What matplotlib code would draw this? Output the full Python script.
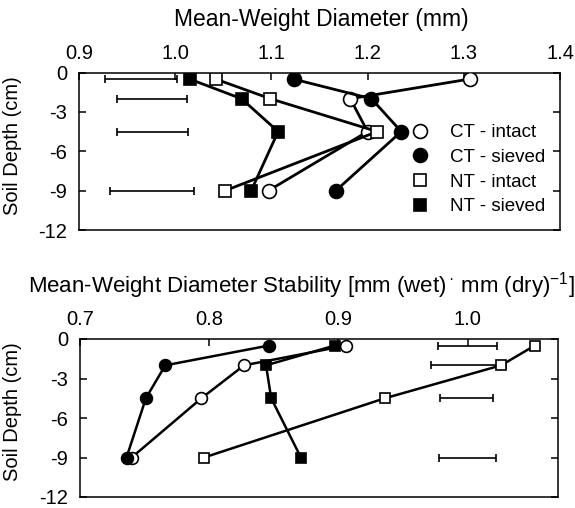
import matplotlib
matplotlib.use("Agg")
import matplotlib.pyplot as plt
from matplotlib.lines import Line2D

plt.rcParams["font.family"] = ["Liberation Sans", "DejaVu Sans"]
plt.rcParams["axes.unicode_minus"] = False
plt.rcParams["mathtext.fontset"] = "custom"
plt.rcParams["mathtext.rm"] = "Liberation Sans"
plt.rcParams["mathtext.default"] = "regular"

# sampling depths (cm)
depth = [-0.5, -2, -4.5, -9]
depth_ticks = [0, -3, -6, -9, -12]

# mean-weight diameter (mm)
mwd_ct_intact = [1.306, 1.182, 1.200, 1.097]
mwd_ct_sieved = [1.123, 1.204, 1.235, 1.167]
mwd_nt_intact = [1.042, 1.099, 1.210, 1.052]
mwd_nt_sieved = [1.015, 1.069, 1.107, 1.079]
mwd_bar_lo = [0.927, 0.940, 0.940, 0.932]
mwd_bar_hi = [1.002, 1.012, 1.013, 1.020]
mwd_ticks = [0.9, 1.0, 1.1, 1.2, 1.3, 1.4]

# mean-weight diameter stability
mwds_ct_intact = [0.906, 0.827, 0.794, 0.740]
mwds_ct_sieved = [0.846, 0.766, 0.751, 0.736]
mwds_nt_intact = [1.052, 1.026, 0.936, 0.796]
mwds_nt_sieved = [0.897, 0.844, 0.848, 0.871]
mwds_bar_lo = [0.977, 0.972, 0.979, 0.978]
mwds_bar_hi = [1.023, 1.030, 1.020, 1.022]
mwds_ticks = [0.7, 0.8, 0.9, 1.0]

labels = ["CT - intact", "CT - sieved", "NT - intact", "NT - sieved"]


def panel(ax, series, lo, hi, xlim, xticks, ms_c, ms_s, lw):
    styles = [("o", "white", ms_c), ("o", "black", ms_c),
              ("s", "white", ms_s), ("s", "black", ms_s)]
    for vals, (mk, fc, ms) in zip(series, styles):
        ax.plot(vals, depth, color="black", lw=lw, marker=mk, ms=ms,
                mfc=fc, mec="black", mew=1.2, zorder=3)
    mid = [(a + b) / 2 for a, b in zip(lo, hi)]
    half = [(b - a) / 2 for a, b in zip(lo, hi)]
    ax.errorbar(mid, depth, xerr=half, fmt="none", ecolor="black",
                elinewidth=1.2, capsize=3, capthick=1.2, zorder=2)
    ax.set_xlim(*xlim)
    ax.set_ylim(-12, 0)
    ax.set_xticks(xticks)
    ax.set_xticklabels(["%.1f" % t for t in xticks])
    ax.set_yticks(depth_ticks)
    ax.xaxis.tick_top()
    ax.tick_params(axis="x", direction="in", top=True, bottom=False,
                   labeltop=True, labelbottom=False, labelsize=14.5,
                   length=5, width=1.1, pad=7)
    ax.tick_params(axis="y", direction="in", left=True, right=True,
                   labelsize=14.5, length=5, width=1.1, pad=8.5)
    for s in ax.spines.values():
        s.set_linewidth(1.1)


fig = plt.figure(figsize=(5.75, 5.08), dpi=100)
ax1 = fig.add_axes([79 / 575, 1 - 230 / 508, 481 / 575, 157.5 / 508])
ax2 = fig.add_axes([80 / 575, 1 - 497 / 508, 478 / 575, 158 / 508])

panel(ax1, [mwd_ct_intact, mwd_ct_sieved, mwd_nt_intact, mwd_nt_sieved],
      mwd_bar_lo, mwd_bar_hi, (0.9, 1.4), mwd_ticks, 10, 8.5, 2.0)
panel(ax2, [mwds_ct_intact, mwds_ct_sieved, mwds_nt_intact, mwds_nt_sieved],
      mwds_bar_lo, mwds_bar_hi, (0.7, 1.07), mwds_ticks, 8.5, 7.5, 1.8)

handles = [
    Line2D([], [], ls="none", marker="o", ms=10, mfc="white", mec="black", mew=1.2),
    Line2D([], [], ls="none", marker="o", ms=10, mfc="black", mec="black", mew=1.2),
    Line2D([], [], ls="none", marker="s", ms=8.5, mfc="white", mec="black", mew=1.2),
    Line2D([], [], ls="none", marker="s", ms=8.5, mfc="black", mec="black", mew=1.2),
]
ax1.legend(handles, labels, loc="upper left", bbox_to_anchor=(0.689, 0.672),
           frameon=False, fontsize=13.5, handlelength=1.0, handletextpad=1.1,
           labelspacing=0.4, borderpad=0, borderaxespad=0)

fig.text(321 / 575, 1 - 26 / 508, "Mean-Weight Diameter (mm)", fontsize=16.5,
         ha="center", va="baseline")
fig.text(28 / 575, 1 - 292.7 / 508,
         r"Mean-Weight Diameter Stability [mm (wet)$^{\,·}$ mm (dry)$^{-1}$]",
         fontsize=16, ha="left", va="baseline")
fig.text(12 / 575, 1 - 146 / 508, "Soil Depth (cm)", fontsize=14.5,
         rotation=90, ha="center", va="center")
fig.text(12 / 575, 1 - 412 / 508, "Soil Depth (cm)", fontsize=14.5,
         rotation=90, ha="center", va="center")

fig.savefig("out.png", dpi=100)
